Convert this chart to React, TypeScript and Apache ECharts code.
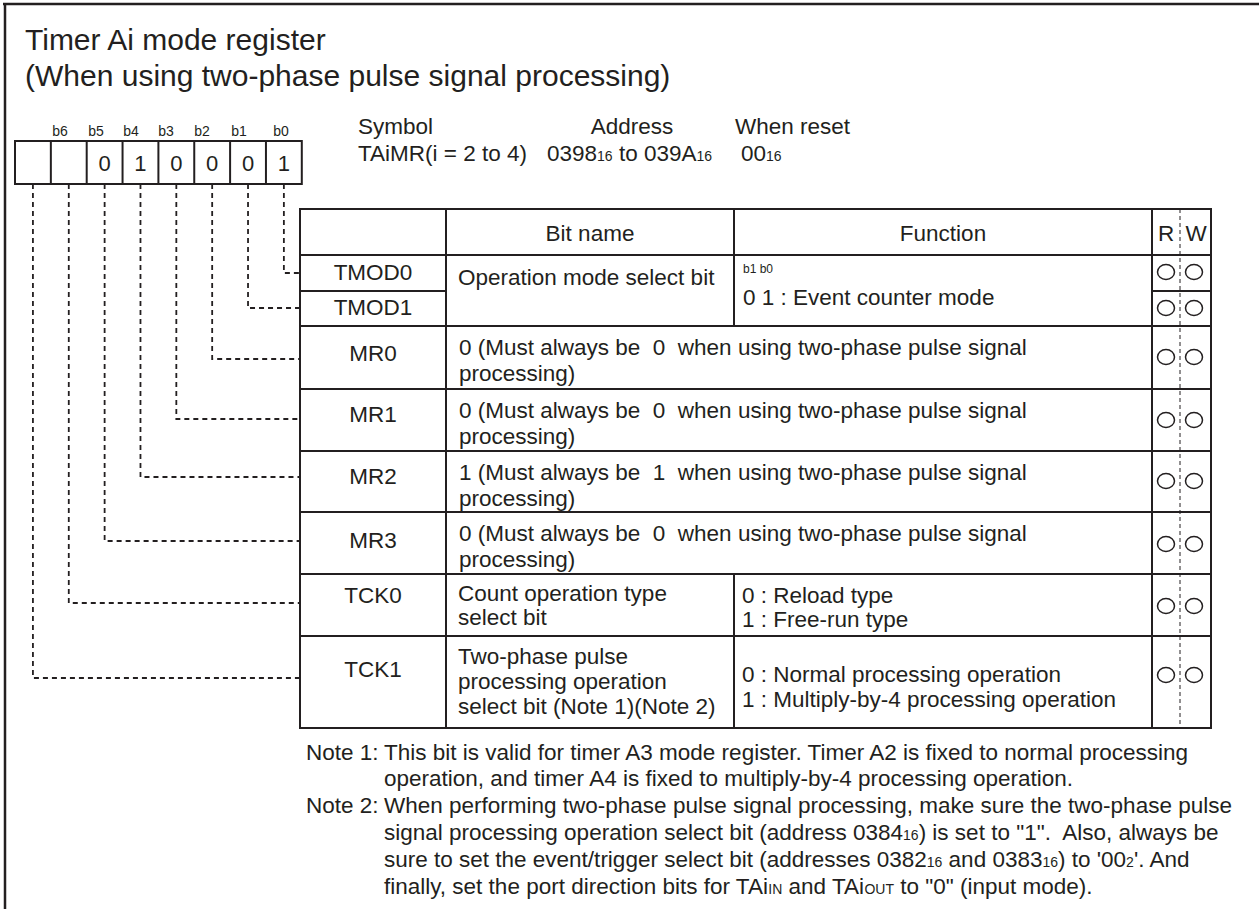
import React, { useEffect, useRef } from 'react';
import * as echarts from 'echarts';

// ---------- content ----------
const TITLE_LINES = ['Timer Ai mode register', '(When using two-phase pulse signal processing)'];
const BIT_LABELS = ['b6', 'b5', 'b4', 'b3', 'b2', 'b1', 'b0'];
const BIT_VALUES = ['', '', '0', '1', '0', '0', '0', '1']; // b7 .. b0
const SYMBOL_HEADS = ['Symbol', 'Address', 'When reset'];
const SYMBOL_VALUES = ['TAiMR(i = 2 to 4)', '0398{s|16} to 039A{s|16}', '00{s|16}'];
const HEADERS = ['Bit name', 'Function', 'R', 'W'];
const ROW_NAMES = ['TMOD0', 'TMOD1', 'MR0', 'MR1', 'MR2', 'MR3', 'TCK0', 'TCK1']; // b0 .. b7
const MODE_BITNAME = 'Operation mode select bit';
const MODE_FUNC_HEAD = 'b1 b0';
const MODE_FUNC = '0 1 : Event counter mode';
const MR_FIXED = [0, 0, 1, 0];
const MR_TAIL = 'processing)';
const TCK0_NAME = ['Count operation type', 'select bit'];
const TCK0_FUNC = ['0 : Reload type', '1 : Free-run type'];
const TCK1_NAME = ['Two-phase pulse', 'processing operation', 'select bit (Note 1)(Note 2)'];
const TCK1_FUNC = ['0 : Normal processing operation', '1 : Multiply-by-4 processing operation'];
const RW = [[1, 1], [1, 1], [1, 1], [1, 1], [1, 1], [1, 1], [1, 1], [1, 1]];
const NOTE_LABELS = ['Note 1:', 'Note 2:'];
const NOTE1_LINES = [
  'This bit is valid for timer A3 mode register. Timer A2 is fixed to normal processing',
  'operation, and timer A4 is fixed to multiply-by-4 processing operation.',
];
const NOTE2_LINES = [
  'When performing two-phase pulse signal processing, make sure the two-phase pulse',
  'signal processing operation select bit (address 0384{s|16}) is set to "1".\u00a0 Also, always be',
  "sure to set the event/trigger select bit (addresses 0382{s|16} and 0383{s|16}) to '00{s|2}'. And",
  'finally, set the port direction bits for TAi{s|IN} and TAi{s|OUT} to "0" (input mode).',
];

// ---------- layout ----------
const C = '#231f20';
const FF = '"Liberation Sans", Arial, Helvetica, sans-serif';
const FS = 22.5;
const BOX_X = 15, BOX_Y = 141, CELL_W = 35.85, BOX_H = 43;
const BIT_LABEL_X = [60, 96, 131, 166, 202, 239, 281];
const TX = [300, 446, 734, 1152, 1211];
const T_RW = 1180;
const ROW_Y = [209, 255, 291, 326, 389, 451, 512, 574, 636, 728];
const NAME_Y = [272, 307, 353, 414, 476, 540, 595, 669];
const LINK_Y = [273, 308, 359, 419, 477, 541, 603, 678];
const CIRCLE_Y = [272, 308, 357, 420, 481, 544, 606, 675];

const richSub = {
  s: { fontSize: 14, verticalAlign: 'bottom', fill: C, fontFamily: FF },
};

function txt(x: number, y: number, text: string, size = FS, align = 'left', extra: any = {}) {
  return {
    type: 'text',
    silent: true,
    x,
    y,
    style: {
      text,
      fill: C,
      fontSize: size,
      fontFamily: FF,
      align,
      textAlign: align,
      verticalAlign: 'middle',
      textVerticalAlign: 'middle',
      lineHeight: Math.round(size * 0.89),
      rich: richSub,
      ...extra,
    },
  };
}

function line(x1: number, y1: number, x2: number, y2: number, w = 2, dash?: number[]) {
  return {
    type: 'line',
    silent: true,
    shape: { x1, y1, x2, y2 },
    style: { stroke: C, lineWidth: w, lineDash: dash || null },
  };
}

function buildElements() {
  const els: any[] = [];
  // frame
  els.push(line(3, 4, 1259, 4, 2.5));
  els.push(line(5, 3, 5, 909, 2.5));

  // title
  els.push(txt(25, 39, TITLE_LINES[0], 30));
  els.push(txt(25, 75, TITLE_LINES[1], 30));

  // register box
  els.push({
    type: 'rect', silent: true,
    shape: { x: BOX_X, y: BOX_Y, width: CELL_W * 8, height: BOX_H },
    style: { fill: 'none', stroke: C, lineWidth: 2 },
  });
  for (let i = 1; i < 8; i++) {
    const x = BOX_X + i * CELL_W;
    els.push(line(x, BOX_Y, x, BOX_Y + BOX_H, 2));
  }
  BIT_LABELS.forEach((b, i) => els.push(txt(BIT_LABEL_X[i], 131, b, 14, 'center')));
  BIT_VALUES.forEach((v, i) => {
    if (v) els.push(txt(BOX_X + (i + 0.5) * CELL_W, 163, v, 22, 'center'));
  });

  // symbol / address / reset
  els.push(txt(358, 126, SYMBOL_HEADS[0]));
  els.push(txt(632, 126, SYMBOL_HEADS[1], FS, 'center'));
  els.push(txt(735, 126, SYMBOL_HEADS[2]));
  els.push(txt(358, 153, SYMBOL_VALUES[0]));
  els.push(txt(547, 153, SYMBOL_VALUES[1]));
  els.push(txt(741, 153, SYMBOL_VALUES[2]));

  // connectors b0..b7
  ROW_NAMES.forEach((_, bit) => {
    const cx = BOX_X + (7 - bit + 0.5) * CELL_W;
    els.push({
      type: 'polyline', silent: true,
      shape: { points: [[cx, BOX_Y + BOX_H], [cx, LINK_Y[bit]], [TX[0], LINK_Y[bit]]] },
      style: { stroke: C, fill: null, lineWidth: 1.8, lineDash: [5, 4] },
    });
  });

  // table frame
  const top = ROW_Y[0], bottom = ROW_Y[ROW_Y.length - 1];
  els.push({
    type: 'rect', silent: true,
    shape: { x: TX[0], y: top, width: TX[4] - TX[0], height: bottom - top },
    style: { fill: 'none', stroke: C, lineWidth: 2 },
  });
  // horizontals
  ROW_Y.slice(1, -1).forEach((y, i) => {
    if (i === 1) {
      // TMOD0 / TMOD1 split: only in name and R/W columns
      els.push(line(TX[0], y, TX[1], y, 2));
      els.push(line(TX[3], y, TX[4], y, 2));
    } else {
      els.push(line(TX[0], y, TX[4], y, 2));
    }
  });
  // verticals
  els.push(line(TX[1], top, TX[1], bottom, 2));
  els.push(line(TX[3], top, TX[3], bottom, 2));
  els.push(line(TX[2], top, TX[2], ROW_Y[3], 2));
  els.push(line(TX[2], ROW_Y[7], TX[2], bottom, 2));
  els.push(line(T_RW, top, T_RW, bottom, 1, [4, 3]));

  // headers
  const hy = 233;
  els.push(txt((TX[1] + TX[2]) / 2, hy, HEADERS[0], FS, 'center'));
  els.push(txt((TX[2] + TX[3]) / 2, hy, HEADERS[1], FS, 'center'));
  els.push(txt((TX[3] + T_RW) / 2, hy, HEADERS[2], FS, 'center'));
  els.push(txt((T_RW + TX[4]) / 2 + 0.5, hy, HEADERS[3], FS, 'center'));

  // row names
  ROW_NAMES.forEach((n, i) => els.push(txt((TX[0] + TX[1]) / 2, NAME_Y[i], n, FS, 'center')));

  // TMOD
  els.push(txt(458, 277, MODE_BITNAME));
  els.push(txt(743, 269, MODE_FUNC_HEAD, 12));
  els.push(txt(743, 297, MODE_FUNC));

  // MR rows
  MR_FIXED.forEach((v, k) => {
    const rt = ROW_Y[3 + k];
    els.push(txt(459, rt + 21, `${v} (Must always be\u00a0\u00a0${v}\u00a0\u00a0when using two-phase pulse signal`));
    els.push(txt(459, rt + 47, MR_TAIL));
  });

  // TCK0
  TCK0_NAME.forEach((t, i) => els.push(txt(458, 593 + i * 24, t)));
  TCK0_FUNC.forEach((t, i) => els.push(txt(742, 595 + i * 24, t)));
  // TCK1
  TCK1_NAME.forEach((t, i) => els.push(txt(458, 656 + i * 25, t)));
  TCK1_FUNC.forEach((t, i) => els.push(txt(742, 674 + i * 25, t)));

  // R/W circles
  RW.forEach((rw, i) => {
    [1166, 1194].forEach((cx, j) => {
      if (rw[j]) {
        els.push({
          type: 'ellipse', silent: true,
          shape: { cx, cy: CIRCLE_Y[i], rx: 8.5, ry: 7.5 },
          style: { fill: 'none', stroke: C, lineWidth: 1.5 },
        });
      }
    });
  });

  // notes
  const NY0 = 752, NDY = 26.8;
  els.push(txt(306, NY0, NOTE_LABELS[0]));
  NOTE1_LINES.forEach((t, i) => els.push(txt(384, NY0 + i * NDY, t)));
  els.push(txt(306, NY0 + 2 * NDY, NOTE_LABELS[1]));
  NOTE2_LINES.forEach((t, i) => els.push(txt(384, NY0 + (2 + i) * NDY, t)));

  return els;
}

export default function App() {
  const ref = useRef<HTMLDivElement>(null);
  useEffect(() => {
    if (!ref.current) return;
    const chart = echarts.init(ref.current, null, { renderer: 'svg' });
    chart.setOption({
      animation: false,
      backgroundColor: '#ffffff',
      graphic: { elements: buildElements() },
    });
    return () => chart.dispose();
  }, []);
  return (
    <div
      ref={ref}
      style={{ position: 'absolute', left: 0, top: 0, width: 1259, height: 909, background: '#fff' }}
    />
  );
}
